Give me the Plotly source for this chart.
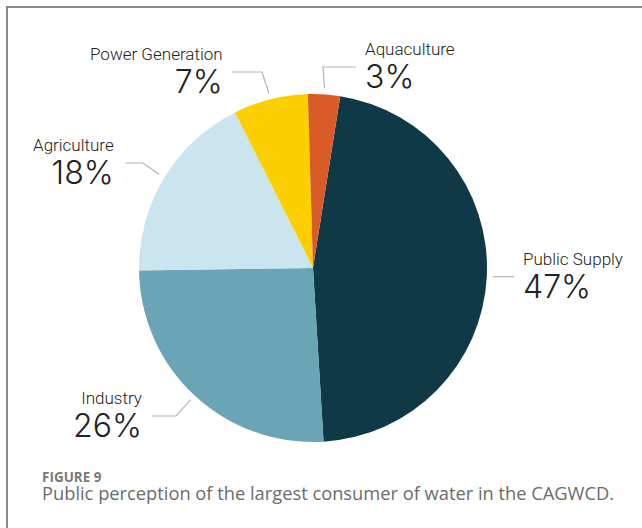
import math
import plotly.graph_objects as go

# ---- data ----
categories = ["Public Supply", "Industry", "Agriculture", "Power Generation", "Aquaculture"]
values = [47, 26, 18, 7, 3]
pct_labels = ["47%", "26%", "18%", "7%", "3%"]
colors = ["#0f3947", "#6aa5b5", "#cbe5f0", "#fcd000", "#d95b27"]

W, H = 642, 528
CX, CY, R = 313, 268, 174
ROT = 9

def px(x):
    return x / W

def py(y):
    return 1 - y / H

fig = go.Figure()
fig.add_trace(go.Pie(
    labels=categories, values=values, sort=False, direction="clockwise",
    rotation=ROT, textinfo="none", hoverinfo="label+percent",
    marker=dict(colors=colors, line=dict(width=0)),
    domain=dict(x=[px(CX - R), px(CX + R)], y=[py(CY + R), py(CY - R)]),
    showlegend=False,
))

# label layout: leader-line elbow / end, text anchor x, side, text block centre y
label_layout = {
    "Public Supply":    dict(elbow=None, end=(514, None), tx=521, side="left", cy=277),
    "Industry":         dict(elbow=(176, 416), end=(152, 416), tx=144, side="right", cy=416),
    "Agriculture":      dict(elbow=(143, 163), end=(125, 163), tx=116, side="right", cy=164),
    "Power Generation": dict(elbow=(262, 72), end=(232, 72), tx=225, side="right", cy=73),
    "Aquaculture":      dict(elbow=(323, 67), end=(356, 67), tx=363, side="left", cy=67),
}

total = sum(values)
acc = 0
shapes = []
annotations = []
for cat, v, pl in zip(categories, values, pct_labels):
    mid = math.radians(ROT + (acc + v / 2) / total * 360)
    acc += v
    r0 = R + 6
    x0 = CX + r0 * math.sin(mid)
    y0 = CY - r0 * math.cos(mid)
    L = label_layout[cat]
    pts = [(x0, y0)]
    if L["elbow"] is not None:
        pts.append(L["elbow"])
        pts.append(L["end"])
    else:
        pts.append((L["end"][0], y0))
    path = "M " + " L ".join(f"{px(a)},{py(b)}" for a, b in pts)
    shapes.append(dict(type="path", xref="paper", yref="paper", path=path,
                       line=dict(color="#b5b5b5", width=1.2)))
    anchor = L["side"]
    txt = (f"<span style='font-size:17px'>{cat}</span><br>"
           f"<span style='font-size:32px;font-family:Inter'>{pl}</span>")
    annotations.append(dict(x=px(L["tx"]), y=py(L["cy"]), xref="paper", yref="paper",
                            text=txt, showarrow=False, xanchor=anchor, yanchor="middle",
                            align=anchor,
                            font=dict(family="Roboto", size=25.5, color="#222222", weight=300)))

# caption
caption_title = "FIGURE 9"
caption_text = "Public perception of the largest consumer of water in the CAGWCD."
annotations.append(dict(
    x=px(40), y=py(486), xref="paper", yref="paper",
    text=(f"<span style='font-size:13.5px;color:#7a7a7a'><b>{caption_title}</b></span><br>"
          f"<span style='font-size:18.3px'>{caption_text}</span>"),
    showarrow=False, xanchor="left", yanchor="middle", align="left",
    font=dict(family="Open Sans", size=14, color="#6b6b6b")))

# frame
shapes.append(dict(type="path", xref="paper", yref="paper",
                   path=f"M {px(7)},{py(540)} L {px(7)},{py(7)} L {px(660)},{py(7)}",
                   line=dict(color="#8a8a8a", width=2)))

fig.update_layout(
    width=W, height=H, margin=dict(l=0, r=0, t=0, b=0),
    paper_bgcolor="white", plot_bgcolor="white",
    shapes=shapes, annotations=annotations,
)
fig.write_html("out.html", config={"displayModeBar": False},
               post_script="document.body.style.margin='0';document.body.style.overflow='hidden';")
